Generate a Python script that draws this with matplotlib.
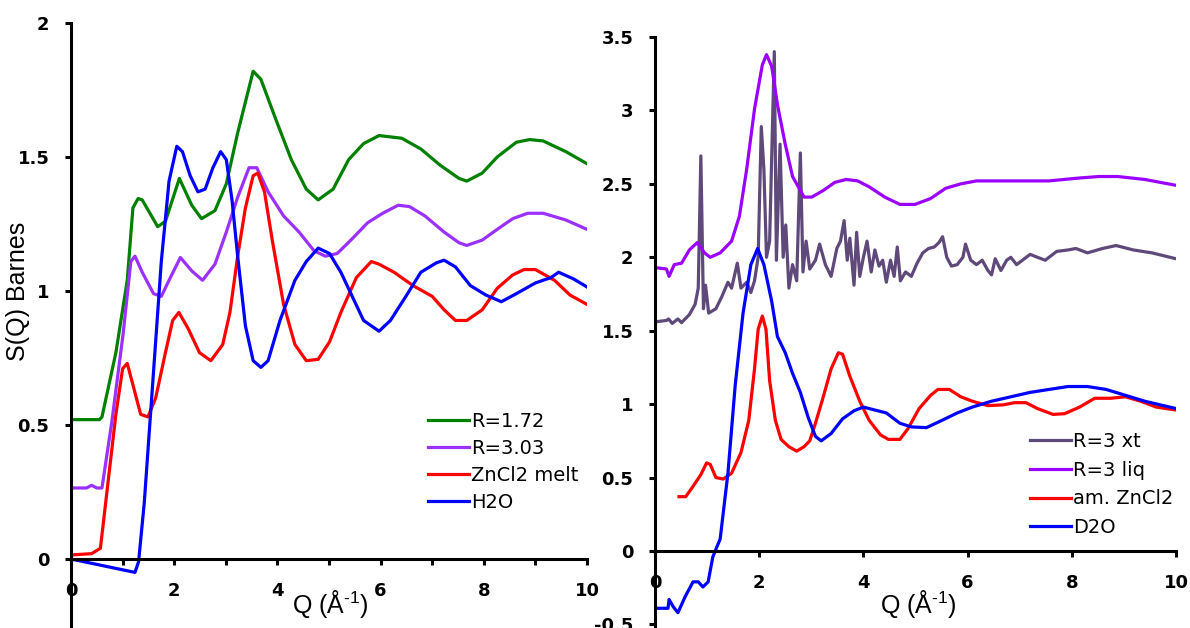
import matplotlib
matplotlib.use("Agg")
import matplotlib.pyplot as plt
from matplotlib.ticker import MultipleLocator

plt.rcParams['font.family'] = ['Liberation Sans', 'DejaVu Sans']
plt.rcParams['mathtext.fontset'] = 'custom'
plt.rcParams['mathtext.rm'] = 'Liberation Sans'

# ---- left panel: S(Q) of the melts ----
q_green = [0, 0.3, 0.55, 0.6, 0.87, 1.09, 1.2, 1.3, 1.38, 1.68, 1.83, 2.1, 2.34, 2.53, 2.79, 3.01, 3.23, 3.53, 3.68,
           3.97, 4.27, 4.56, 4.79, 5.08, 5.38, 5.67, 5.97, 6.41, 6.78, 7.15, 7.52, 7.67, 7.97, 8.26, 8.63, 8.89,
           9.15, 9.59, 10]
s_green = [0.52, 0.52, 0.52, 0.53, 0.77, 1.04, 1.31, 1.345, 1.34, 1.24, 1.26, 1.42, 1.32, 1.27, 1.30, 1.40, 1.59,
           1.82, 1.79, 1.64, 1.49, 1.38, 1.34, 1.38, 1.49, 1.55, 1.58, 1.57, 1.53, 1.47, 1.42, 1.41, 1.44, 1.50,
           1.555, 1.565, 1.56, 1.52, 1.475]

q_purple = [0, 0.3, 0.4, 0.5, 0.6, 0.79, 1.01, 1.16, 1.24, 1.38, 1.6, 1.75, 1.9, 2.12, 2.34, 2.55, 2.79, 3.01, 3.23,
            3.45, 3.6, 3.82, 4.12, 4.42, 4.71, 4.93, 5.16, 5.45, 5.75, 6.04, 6.34, 6.56, 6.86, 7.23, 7.52, 7.67,
            7.97, 8.26, 8.56, 8.85, 9.15, 9.59, 10]
s_purple = [0.265, 0.265, 0.275, 0.265, 0.265, 0.51, 0.84, 1.11, 1.13, 1.07, 0.99, 0.98, 1.04, 1.125, 1.075, 1.04,
            1.10, 1.22, 1.35, 1.46, 1.46, 1.37, 1.28, 1.22, 1.15, 1.13, 1.14, 1.195, 1.255, 1.29, 1.32, 1.315,
            1.28, 1.22, 1.18, 1.17, 1.19, 1.23, 1.27, 1.29, 1.29, 1.265, 1.23]

q_melt = [0, 0.4, 0.57, 0.72, 0.87, 1.0, 1.09, 1.2, 1.35, 1.49, 1.64, 1.83, 1.97, 2.09, 2.27, 2.49, 2.71, 2.94,
          3.08, 3.23, 3.38, 3.53, 3.62, 3.75, 3.9, 4.12, 4.34, 4.56, 4.79, 5.01, 5.23, 5.53, 5.82, 5.97, 6.26,
          6.63, 7.0, 7.23, 7.45, 7.67, 7.97, 8.26, 8.56, 8.78, 9.0, 9.37, 9.67, 10]
s_melt = [0.015, 0.02, 0.04, 0.29, 0.54, 0.71, 0.73, 0.65, 0.54, 0.53, 0.60, 0.77, 0.89, 0.92, 0.86, 0.77, 0.74,
          0.80, 0.92, 1.13, 1.31, 1.43, 1.44, 1.37, 1.19, 0.95, 0.80, 0.74, 0.745, 0.81, 0.92, 1.05, 1.11, 1.10,
          1.07, 1.02, 0.98, 0.93, 0.89, 0.89, 0.93, 1.01, 1.06, 1.08, 1.08, 1.04, 0.985, 0.95]

q_h2o = [0, 1.24, 1.31, 1.42, 1.53, 1.64, 1.75, 1.9, 2.05, 2.16, 2.31, 2.46, 2.6, 2.75, 2.9, 3.01, 3.12, 3.23, 3.38,
         3.53, 3.68, 3.82, 4.05, 4.34, 4.56, 4.79, 5.01, 5.23, 5.45, 5.67, 5.97, 6.19, 6.49, 6.78, 7.08, 7.23,
         7.45, 7.74, 8.04, 8.34, 8.63, 9.0, 9.3, 9.45, 9.74, 10]
s_h2o = [0.0, -0.05, -0.01, 0.21, 0.51, 0.81, 1.11, 1.41, 1.54, 1.52, 1.43, 1.37, 1.38, 1.46, 1.52, 1.49, 1.34,
         1.13, 0.87, 0.74, 0.715, 0.74, 0.89, 1.04, 1.11, 1.16, 1.14, 1.07, 0.98, 0.89, 0.85, 0.89, 0.98, 1.07,
         1.105, 1.115, 1.09, 1.02, 0.985, 0.96, 0.99, 1.03, 1.05, 1.07, 1.045, 1.015]

# ---- right panel: R=3 crystal / liquid ----
q_xt = [0, 0.22, 0.26, 0.33, 0.44, 0.51, 0.66, 0.77, 0.83, 0.88, 0.93, 0.97, 1.03, 1.17, 1.28, 1.4, 1.47, 1.58,
        1.65, 1.76, 1.84, 1.91, 1.98, 2.04, 2.09, 2.14, 2.2, 2.29, 2.33, 2.4, 2.46, 2.51, 2.57, 2.64, 2.72, 2.79,
        2.84, 2.9, 2.97, 3.08, 3.16, 3.27, 3.38, 3.49, 3.56, 3.63, 3.69, 3.74, 3.82, 3.87, 3.93, 4.0, 4.07, 4.15,
        4.22, 4.3, 4.37, 4.44, 4.52, 4.59, 4.65, 4.71, 4.81, 4.92, 5.03, 5.14, 5.25, 5.36, 5.45, 5.52, 5.6,
        5.69, 5.8, 5.91, 5.96, 6.06, 6.17, 6.28, 6.39, 6.46, 6.53, 6.64, 6.75, 6.83, 6.94, 7.09, 7.2, 7.34,
        7.49, 7.71, 7.93, 8.08, 8.3, 8.59, 8.85, 9.18, 9.54, 10]
s_xt = [1.56, 1.57, 1.58, 1.55, 1.58, 1.555, 1.61, 1.68, 1.79, 2.69, 1.65, 1.81, 1.62, 1.65, 1.73, 1.83, 1.79,
        1.96, 1.79, 1.83, 1.76, 1.84, 2.0, 2.89, 2.60, 2.0, 2.11, 3.40, 1.98, 2.77, 2.0, 2.22, 1.79, 1.95, 1.84,
        2.71, 1.90, 2.11, 1.92, 1.98, 2.09, 1.95, 1.87, 2.06, 2.11, 2.25, 1.98, 2.13, 1.81, 2.17, 1.87, 2.0,
        2.11, 1.90, 2.05, 1.94, 1.98, 1.83, 1.98, 1.87, 2.07, 1.84, 1.90, 1.87, 1.96, 2.03, 2.06, 2.07, 2.10,
        2.14, 2.0, 1.94, 1.95, 2.0, 2.09, 1.98, 1.95, 1.98, 1.91, 1.88, 1.99, 1.91, 1.98, 2.0, 1.95, 1.99, 2.02,
        2.0, 1.98, 2.04, 2.05, 2.06, 2.03, 2.06, 2.08, 2.05, 2.03, 1.99]

q_liq = [0, 0.22, 0.27, 0.37, 0.51, 0.66, 0.81, 0.95, 1.06, 1.25, 1.47, 1.62, 1.76, 1.91, 2.06, 2.14, 2.24, 2.35,
         2.5, 2.64, 2.86, 3.01, 3.23, 3.45, 3.67, 3.89, 4.11, 4.41, 4.7, 4.99, 5.29, 5.58, 5.87, 6.17, 6.83,
         7.56, 8.15, 8.52, 8.88, 9.4, 10]
s_liq = [1.93, 1.92, 1.87, 1.95, 1.96, 2.05, 2.10, 2.03, 2.0, 2.03, 2.11, 2.28, 2.60, 3.01, 3.31, 3.38, 3.30, 3.04,
         2.77, 2.55, 2.41, 2.41, 2.455, 2.51, 2.53, 2.52, 2.48, 2.41, 2.36, 2.36, 2.40, 2.47, 2.50, 2.52, 2.52,
         2.52, 2.54, 2.55, 2.55, 2.53, 2.49]

q_am = [0.46, 0.59, 0.73, 0.88, 0.99, 1.06, 1.17, 1.31, 1.47, 1.65, 1.8, 1.91, 1.98, 2.06, 2.13, 2.2, 2.31, 2.42,
        2.57, 2.72, 2.86, 2.97, 3.08, 3.23, 3.38, 3.52, 3.6, 3.74, 3.93, 4.11, 4.33, 4.48, 4.7, 4.85, 5.07, 5.29,
        5.43, 5.65, 5.87, 6.09, 6.39, 6.68, 6.9, 7.12, 7.34, 7.64, 7.86, 8.15, 8.44, 8.74, 9.03, 9.32, 9.62, 10]
s_am = [0.37, 0.37, 0.44, 0.52, 0.60, 0.59, 0.50, 0.49, 0.53, 0.67, 0.89, 1.24, 1.51, 1.60, 1.51, 1.16, 0.89, 0.76,
        0.71, 0.68, 0.71, 0.75, 0.87, 1.05, 1.24, 1.35, 1.34, 1.19, 1.02, 0.89, 0.79, 0.76, 0.76, 0.83, 0.97, 1.06,
        1.10, 1.10, 1.05, 1.02, 0.99, 0.995, 1.01, 1.01, 0.97, 0.93, 0.935, 0.98, 1.04, 1.04, 1.05, 1.02, 0.98,
        0.96]

q_d2o = [0, 0.25, 0.27, 0.35, 0.44, 0.58, 0.73, 0.83, 0.92, 1.02, 1.11, 1.19, 1.25, 1.4, 1.54, 1.69, 1.84, 1.97,
         2.09, 2.24, 2.35, 2.5, 2.64, 2.79, 2.94, 3.08, 3.19, 3.38, 3.6, 3.82, 4.0, 4.22, 4.44, 4.7, 4.92, 5.21,
         5.51, 5.8, 6.09, 6.46, 6.83, 7.2, 7.56, 7.93, 8.3, 8.66, 9.03, 9.4, 10]
s_d2o = [-0.39, -0.39, -0.33, -0.38, -0.42, -0.31, -0.21, -0.21, -0.245, -0.21, -0.04, 0.03, 0.08, 0.53, 1.13,
         1.62, 1.95, 2.06, 1.95, 1.70, 1.46, 1.35, 1.21, 1.08, 0.91, 0.78, 0.75, 0.80, 0.90, 0.955, 0.98, 0.96,
         0.94, 0.87, 0.845, 0.84, 0.89, 0.94, 0.98, 1.02, 1.05, 1.08, 1.10, 1.12, 1.12, 1.10, 1.06, 1.02, 0.97]

W, H = 1190, 628
fig = plt.figure(figsize=(W / 100, H / 100), dpi=100)

lw = 2.3
tick_font = dict(fontsize=13, fontweight='bold', family='DejaVu Sans')
legend_font = dict(family='DejaVu Sans', size=14)


def style_axis(ax, ymin, ymax, minor_x):
    ax.set_xlim(0, 10)
    ax.set_ylim(ymin, ymax)
    for s in ['top', 'right']:
        ax.spines[s].set_visible(False)
    ax.spines['bottom'].set_position(('data', 0))
    for s in ['left', 'bottom']:
        ax.spines[s].set_linewidth(2.2)
    if minor_x:
        ax.xaxis.set_minor_locator(MultipleLocator(1))
    ax.tick_params(axis='both', which='both', direction='out', length=4.5, width=2.2)
    ax.tick_params(axis='x', pad=12)
    ax.tick_params(axis='y', pad=11)
    yt = []
    t = -1.0
    while t <= ymax + 1e-9:
        if t >= ymin - 1e-9:
            yt.append(round(t, 2))
        t += 0.5
    ax.set_yticks(yt)
    ax.set_yticklabels([('%g' % v) for v in yt], **tick_font)
    ax.set_xticks([0, 2, 4, 6, 8, 10])
    ax.set_xticklabels(['0', '2', '4', '6', '8', '10'], **tick_font)
    ax.patch.set_visible(False)


# left axes: x 71..587 px, y 2 at 23 px, 0 at 559 px
ax1 = fig.add_axes([71 / W, (H - 693) / H, 516 / W, (693 - 23) / H])
ax1.plot(q_green, s_green, color='#008000', lw=lw, label='R=1.72')
ax1.plot(q_purple, s_purple, color='#9B30FF', lw=lw, label='R=3.03')
ax1.plot(q_melt, s_melt, color='#FF0000', lw=lw, label='ZnCl2 melt')
ax1.plot(q_h2o, s_h2o, color='#0000FF', lw=lw, label='H2O')
style_axis(ax1, -0.5, 2, True)
ax1.legend(loc='upper left', bbox_to_anchor=(428 / W, 1 - 412 / H), bbox_transform=fig.transFigure,
           frameon=False, prop=legend_font, handlelength=2.1, handletextpad=0.1, labelspacing=0.41,
           borderpad=0, borderaxespad=0)

# right axes: x 655..1176 px, y 3.5 at 37 px, 0 at 551 px
ppu = (551 - 37) / 3.5
ax2 = fig.add_axes([655 / W, (H - (551 + ppu)) / H, 521 / W, 4.5 * ppu / H])
ax2.plot(q_xt, s_xt, color='#5F497A', lw=lw, label='R=3 xt')
ax2.plot(q_liq, s_liq, color='#9B00FF', lw=lw, label='R=3 liq')
ax2.plot(q_am, s_am, color='#FF0000', lw=lw, label='am. ZnCl2')
ax2.plot(q_d2o, s_d2o, color='#0000FF', lw=lw, label='D2O')
style_axis(ax2, -1, 3.5, False)
ax2.legend(loc='upper left', bbox_to_anchor=(1030 / W, 1 - 432 / H), bbox_transform=fig.transFigure,
           frameon=False, prop=legend_font, handlelength=2.1, handletextpad=0.1, labelspacing=0.5,
           borderpad=0, borderaxespad=0)

fig.text(18 / W, 1 - 291 / H, 'S(Q) Barnes', rotation=90, ha='center', va='center', fontsize=18)
fig.text(330 / W, 1 - 604 / H, 'Q (Å$^{\\text{-1}}$)', ha='center', va='center', fontsize=18)
fig.text(918 / W, 1 - 604 / H, 'Q (Å$^{\\text{-1}}$)', ha='center', va='center', fontsize=18)

fig.savefig('out.png', dpi=100)
